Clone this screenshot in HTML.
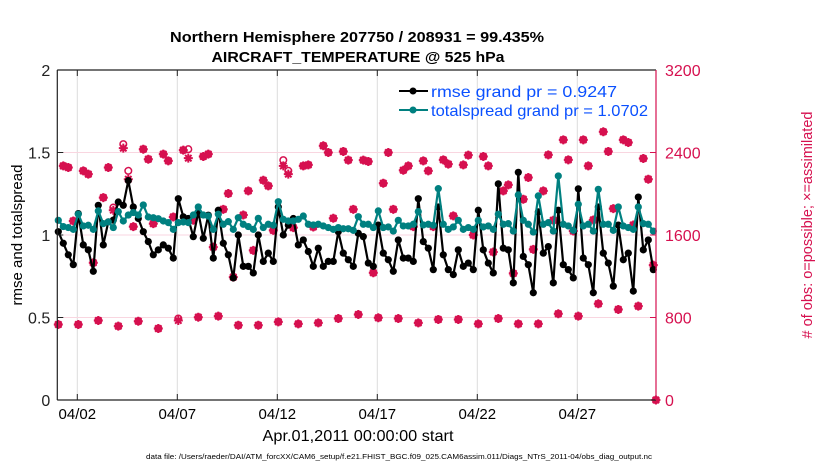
<!DOCTYPE html>
<html><head><meta charset="utf-8"><style>
html,body{margin:0;padding:0;background:#fff;}
svg{display:block;font-family:"Liberation Sans",Arial,sans-serif;}
</style></head><body>
<svg id="chart" width="830" height="470" viewBox="0 0 830 470" xmlns="http://www.w3.org/2000/svg">
<rect x="0" y="0" width="830" height="470" fill="#fff"/>
<g id="grid"></g>
<g id="obsg"></g>
<g id="lineg"></g>
<g id="axes"></g>
<text x="357" y="42" text-anchor="middle" font-size="15" font-weight="bold" textLength="374" lengthAdjust="spacingAndGlyphs">Northern Hemisphere 207750 / 208931 = 99.435%</text>
<text x="358" y="62" text-anchor="middle" font-size="15" font-weight="bold" textLength="293" lengthAdjust="spacingAndGlyphs">AIRCRAFT_TEMPERATURE @ 525 hPa</text>
<text transform="translate(22,235) rotate(-90)" text-anchor="middle" font-size="15">rmse and totalspread</text>
<text transform="translate(812,225) rotate(-90)" text-anchor="middle" font-size="14.5" fill="#D6104F">#  of obs: o=possible; ×=assimilated</text>
<text x="358" y="441" text-anchor="middle" font-size="16" textLength="191" lengthAdjust="spacingAndGlyphs">Apr.01,2011 00:00:00 start</text>
<text x="399" y="459" text-anchor="middle" font-size="7.5" textLength="506" lengthAdjust="spacingAndGlyphs">data file: /Users/raeder/DAI/ATM_forcXX/CAM6_setup/f.e21.FHIST_BGC.f09_025.CAM6assim.011/Diags_NTrS_2011-04/obs_diag_output.nc</text>
<g>
<g>
<line x1="399" y1="91" x2="428" y2="91" stroke="#000" stroke-width="2"/>
<circle cx="413" cy="91" r="3.5" fill="#000"/>
<text x="431" y="97" font-size="16" fill="#0A50FF" textLength="186" lengthAdjust="spacingAndGlyphs">rmse grand pr = 0.9247</text>
</g>
<g>
<line x1="399" y1="110" x2="428" y2="110" stroke="#008080" stroke-width="2"/>
<circle cx="413" cy="110" r="3.5" fill="#008080"/>
<text x="431" y="116" font-size="16" fill="#0A50FF" textLength="217" lengthAdjust="spacingAndGlyphs">totalspread grand pr = 1.0702</text>
</g>
</g>
</svg>
<script>
const rmse=[1.02,0.95,0.88,0.82,1.13,0.94,0.91,0.78,1.18,0.94,1.08,1.09,1.20,1.18,1.33,1.17,1.10,1.02,0.96,0.88,0.91,0.94,0.92,0.86,1.22,1.11,1.10,0.99,1.14,0.98,1.12,0.86,1.15,0.95,0.88,0.74,1.00,0.81,0.81,0.77,1.00,0.84,0.89,0.84,1.17,1.00,1.06,1.10,0.94,0.97,0.90,0.81,0.92,0.81,0.84,0.84,1.02,0.89,0.85,0.81,1.01,
0.99,0.83,0.81,1.06,0.89,0.85,0.78,0.97,0.86,0.86,0.84,1.22,0.96,0.92,0.79,1.17,0.88,0.79,0.76,0.91,0.81,0.83,0.79,1.15,0.91,0.83,0.77,1.31,0.92,0.91,0.71,1.38,0.87,0.82,0.65,1.14,0.89,0.93,0.71,1.15,0.82,0.79,0.74,1.28,0.86,0.82,0.65,1.17,0.89,0.83,0.69,1.06,0.85,0.89,0.66,1.23,0.91,0.97,0.79];
const spread=[1.089,1.051,1.045,1.034,1.126,1.055,1.059,1.034,1.146,1.069,1.079,1.045,1.142,1.085,1.121,1.136,1.121,1.182,1.109,1.105,1.099,1.085,1.075,1.034,1.075,1.079,1.075,1.121,1.170,1.121,1.115,1.034,1.126,1.065,1.081,1.034,1.105,1.065,1.051,1.034,1.101,1.045,1.065,1.059,1.202,1.095,1.085,1.085,1.095,1.115,1.065,1.061,1.065,1.055,1.045,1.034,1.045,1.038,1.038,1.028,1.111,
1.065,1.065,1.045,1.146,1.045,1.049,1.024,1.089,1.055,1.055,1.065,1.142,1.061,1.065,1.059,1.281,1.065,1.034,1.049,1.089,1.034,1.045,1.034,1.089,1.049,1.055,1.034,1.126,1.065,1.069,1.024,1.243,1.089,1.065,1.018,1.237,1.065,1.075,1.024,1.358,1.065,1.055,1.028,1.186,1.055,1.065,1.024,1.277,1.065,1.065,1.028,1.170,1.055,1.045,1.034,1.170,1.069,1.065,1.024];
const assimilated=[732,2270,2254,1736,732,2222,2190,1331,771,1963,2254,1840,716,2442,2141,1681,764,2432,2335,1710,693,2384,2319,1775,771,2423,2345,1743,803,2361,2384,1483,813,1849,2002,1192,725,1794,2028,1451,725,2131,2076,1645,758,2270,2190,1671,738,2270,2280,1678,748,2465,2400,1762,790,2410,2326,1849,829,
2326,2313,1234,797,2102,2400,1849,790,2228,2270,1681,748,2319,2222,1681,781,2329,2287,1785,781,2280,2374,1600,738,2361,2270,1435,790,2028,2086,1228,738,1947,2157,1461,738,2028,2377,1743,836,2523,2329,1639,813,2523,2270,1746,933,2601,2410,1856,878,2523,2497,1697,910,2342,2141,1308,0];
const possible=[732,2270,2254,1736,732,2222,2190,1331,771,1963,2254,1866,716,2481,2222,1681,764,2432,2335,1710,693,2384,2319,1775,790,2423,2432,1743,803,2361,2384,1483,813,1849,2002,1192,725,1794,2028,1451,725,2131,2076,1645,758,2326,2222,1671,738,2270,2280,1678,748,2465,2400,1762,790,2410,2326,1849,829,
2326,2313,1234,797,2102,2400,1849,790,2228,2270,1681,748,2319,2222,1681,781,2329,2287,1785,781,2280,2374,1600,738,2361,2270,1435,790,2028,2086,1228,738,1947,2157,1461,738,2028,2377,1743,836,2523,2329,1639,813,2523,2270,1746,933,2601,2410,1856,878,2523,2497,1697,910,2342,2141,1308,0];
const xTickDays=[1,6,11,16,21,26];
const xTickLabels=["04/02","04/07","04/12","04/17","04/22","04/27"];
const yLeftTicks=[0,0.5,1,1.5,2];
const yLeftLabels=["0","0.5","1","1.5","2"];
const yRightTicks=[0,800,1600,2400,3200];

const NS="http://www.w3.org/2000/svg";
const L=57.3,R=656,T=70,B=400,DAYPX=20;
const PINK="#D6104F",TEAL="#008080";
function xDay(d){return L+d*DAYPX;}
function xIdx(k){return xDay(0.05+0.25*k);}
function yL(v){return B-(v/2)*(B-T);}
function yR(c){return B-(c/3200)*(B-T);}
function mk(tag,attrs,parent){const e=document.createElementNS(NS,tag);for(const k in attrs)e.setAttribute(k,attrs[k]);parent.appendChild(e);return e;}
const grid=document.getElementById('grid'),axes=document.getElementById('axes'),obsg=document.getElementById('obsg'),lineg=document.getElementById('lineg');

xTickDays.forEach((d,i)=>{
  const x=xDay(d);
  const g=mk('line',{x1:x,y1:T,x2:x,y2:B,stroke:'#dcdcdc','stroke-width':1},grid);
  
  
  mk('line',{x1:x,y1:B,x2:x,y2:B-6,stroke:'#222','stroke-width':1},axes);
  mk('line',{x1:x,y1:T,x2:x,y2:T+6,stroke:'#222','stroke-width':1},axes);
  const t=mk('text',{x:x,y:419,'text-anchor':'middle','font-size':15},axes);
  t.textContent=xTickLabels[i];
  
  
});
yRightTicks.forEach((c,i)=>{
  const y=yR(c);
  if(c>0&&c<3200){
    const g=mk('line',{x1:L,y1:y,x2:R,y2:y,stroke:'#f9d6e0','stroke-width':1},grid);
    
    
  }
  mk('line',{x1:R,y1:y,x2:R-6,y2:y,stroke:PINK,'stroke-width':1},axes);
  const t=mk('text',{x:R+9,y:y+6,'font-size':16,fill:PINK},axes);
  t.textContent=String(c);
  
  
});
yLeftTicks.forEach((v,i)=>{
  const y=yL(v);
  mk('line',{x1:L,y1:y,x2:L+6,y2:y,stroke:'#222','stroke-width':1},axes);
  const t=mk('text',{x:L-7,y:y+6,'text-anchor':'end','font-size':16,fill:'#222'},axes);
  t.textContent=yLeftLabels[i];
  
  
});
mk('line',{x1:L,y1:T,x2:L,y2:B,stroke:'#222','stroke-width':1.2},axes);
mk('line',{x1:L,y1:B,x2:R,y2:B,stroke:'#222','stroke-width':1.2},axes);
mk('line',{x1:L,y1:T,x2:R,y2:T,stroke:'#222','stroke-width':1.2},axes);
mk('line',{x1:R,y1:T,x2:R,y2:B,stroke:PINK,'stroke-width':1.2},axes);

possible.forEach((c,k)=>{
  const x=k<rmse.length?xIdx(k):xDay(29.93), y=yR(c);
  const o=mk('circle',{cx:x,cy:y,r:3.3,fill:'none',stroke:PINK,'stroke-width':1.5},obsg);
  
  
});
assimilated.forEach((c,k)=>{
  const x=k<rmse.length?xIdx(k):xDay(29.93), y=yR(c);
  const s=mk('path',{d:`M${x-4.5},${y}H${x+4.5}M${x},${y-4.5}V${y+4.5}M${x-3.2},${y-3.2}L${x+3.2},${y+3.2}M${x-3.2},${y+3.2}L${x+3.2},${y-3.2}`,stroke:PINK,'stroke-width':2},obsg);
  
  
  const d=mk('circle',{cx:x,cy:y,r:2.8,fill:PINK},obsg);
  
  
});

function series(vals,color,name){
  const pts=vals.map((v,k)=>xIdx(k).toFixed(2)+','+yL(v).toFixed(2)).join(' ');
  const pl=mk('polyline',{points:pts,fill:'none',stroke:color,'stroke-width':2.2,'stroke-linejoin':'round'},lineg);
  
  
  vals.forEach((v,k)=>{
    const c=mk('circle',{cx:xIdx(k),cy:yL(v),r:3.6,fill:color},lineg);
    
    
  });
}
series(rmse,'#000','rmse');
series(spread,TEAL,'totalspread');
</script>
</body></html>
